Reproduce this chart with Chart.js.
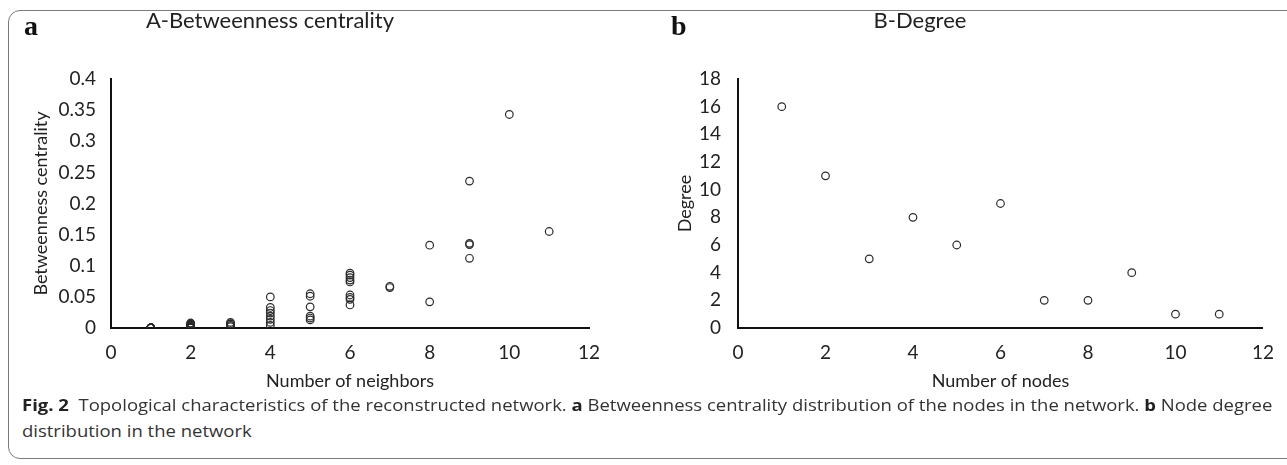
<!DOCTYPE html>
<html>
<head>
<meta charset="utf-8">
<script src="https://cdn.jsdelivr.net/npm/chart.js@4.4.1/dist/chart.umd.min.js"></script>
<style>
  html, body { margin: 0; padding: 0; background: #fff; }
  body { width: 1287px; height: 465px; position: relative; overflow: hidden; font-family: Lato, sans-serif; }
  .frame {
    position: absolute; left: 8px; top: 10px; width: 1300px; height: 447px;
    border: 1.5px solid #7a7a7a; border-radius: 12px;
  }
  .panel { position: absolute; top: 0; }
  .letter { position: absolute; font-family: "Liberation Serif", serif; font-weight: bold; font-size: 28px; color: #111; }
  .title { position: absolute; font-family: Lato, sans-serif; font-size: 22px; color: #222; transform: translateX(-50%); white-space: nowrap; }
  .caption { position: absolute; left: 22px; font-family: "Open Sans", sans-serif; font-size: 16px; color: #333; white-space: nowrap; transform-origin: left top; }
  .caption b { color: #222; }
</style>
</head>
<body>
<div class="frame"></div>

<canvas id="chart-a" class="panel" style="left:0px"></canvas>
<canvas id="chart-b" class="panel" style="left:640px"></canvas>

<div class="letter" style="left:24px; top:10px">a</div>
<div class="title" style="left:270px; top:6px">A-Betweenness centrality</div>
<div class="letter" style="left:671px; top:10px">b</div>
<div class="title" style="left:920px; top:6px">B-Degree</div>

<div class="caption" id="cap1" style="top:394px"><b>Fig. 2</b>&nbsp; Topological characteristics of the reconstructed network. <b>a</b> Betweenness centrality distribution of the nodes in the network. <b>b</b> Node degree</div>
<div class="caption" id="cap2" style="top:420px">distribution in the network</div>

<script>
/* =====================================================
   DATA
===================================================== */
// panel a: one point per node (number of neighbors, betweenness)
const neighborsA = [
  1, 1, 1, 1, 1, 1, 1, 1, 1, 1, 1, 1, 1, 1, 1, 1,
  2, 2, 2, 2, 2, 2, 2, 2, 2, 2, 2,
  3, 3, 3, 3, 3,
  4, 4, 4, 4, 4, 4, 4, 4,
  5, 5, 5, 5, 5, 5,
  6, 6, 6, 6, 6, 6, 6, 6, 6,
  7, 7,
  8, 8,
  9, 9, 9, 9,
  10,
  11
];
const betweennessA = [
  0, 0, 0, 0, 0, 0, 0, 0, 0, 0, 0, 0, 0, 0, 0, 0,
  0, 0, 0, 0.001, 0.002, 0.003, 0.004, 0.005, 0.006, 0.007, 0.008,
  0.002, 0.004, 0.006, 0.007, 0.009,
  0.05, 0.033, 0.028, 0.024, 0.019, 0.014, 0.009, 0.004,
  0.055, 0.051, 0.034, 0.019, 0.016, 0.013,
  0.088, 0.085, 0.081, 0.077, 0.074, 0.053, 0.049, 0.046, 0.037,
  0.067, 0.065,
  0.133, 0.042,
  0.236, 0.136, 0.134, 0.112,
  0.343,
  0.155
];

// panel b: degree distribution
const nodesB = [1, 2, 3, 4, 5, 6, 7, 8, 9, 10, 11];
const degreeB = [16, 11, 5, 8, 6, 9, 2, 2, 4, 1, 1];

const xTicks = [0, 2, 4, 6, 8, 10, 12];
const yTicksA = [0, 0.05, 0.1, 0.15, 0.2, 0.25, 0.3, 0.35, 0.4];
const yTicksB = [0, 2, 4, 6, 8, 10, 12, 14, 16, 18];


/* =====================================================
   SHARED OPTIONS
===================================================== */
const INK = "#222";
const TICK_FONT = { family: "Lato", size: 19 };
const AXIS_FONT = { family: "Lato", size: 18 };

function makeScatter(canvasId, size, xs, ys, cfg) {

  const canvas = document.getElementById(canvasId);
  canvas.width = size.w;
  canvas.height = size.h;
  canvas.style.width = size.w + "px";
  canvas.style.height = size.h + "px";

  return new Chart(canvas, {
    type: "scatter",
    data: {
      datasets: [{
        data: xs.map((x, i) => ({ x: x, y: ys[i] })),
        pointStyle: "circle",
        pointRadius: 3.8,
        borderColor: "#2a2a2a",
        borderWidth: 1.2,
        backgroundColor: "rgba(255,255,255,0)"
      }]
    },
    options: {
      responsive: false,
      animation: false,
      layout: { padding: { top: 79, right: cfg.padRight, left: 0, bottom: 0 } },
      plugins: { legend: { display: false }, tooltip: { enabled: false } },
      scales: {
        x: {
          type: "linear",
          min: 0, max: 12,
          afterFit: s => { s.height = size.h - 328; },
          afterBuildTicks: s => { s.ticks = xTicks.map(v => ({ value: v })); },
          grid: { display: false, drawTicks: false },
          border: { display: true, color: "#111", width: 2 },
          ticks: { color: INK, font: TICK_FONT, padding: 13 },
          title: {
            display: true, text: cfg.xTitle, color: INK, font: AXIS_FONT,
            padding: { top: 0, bottom: 8 }
          }
        },
        y: {
          type: "linear",
          min: 0, max: cfg.yMax,
          afterFit: s => { s.width = cfg.yWidth; },
          afterBuildTicks: s => { s.ticks = cfg.yTicks.map(v => ({ value: v })); },
          grid: { display: false, drawTicks: false },
          border: { display: true, color: "#111", width: 2 },
          ticks: {
            color: INK, font: TICK_FONT, padding: cfg.yPad,
            callback: v => String(+Number(v).toFixed(2))
          },
          title: {
            display: true, text: cfg.yTitle, color: INK, font: AXIS_FONT,
            padding: { top: cfg.yTitlePad, bottom: 0 }
          }
        }
      }
    }
  });
}


/* =====================================================
   CHARTS
===================================================== */
makeScatter("chart-a", { w: 640, h: 400 }, neighborsA, betweennessA, {
  padRight: 640 - 589,
  yWidth: 111,
  yMax: 0.4,
  yTicks: yTicksA,
  yPad: 15,
  yTitlePad: 30,
  xTitle: "Number of neighbors",
  yTitle: "Betweenness centrality"
});

makeScatter("chart-b", { w: 647, h: 400 }, nodesB, degreeB, {
  padRight: 647 - 624,
  yWidth: 98,
  yMax: 18,
  yTicks: yTicksB,
  yPad: 17,
  yTitlePad: 34,
  xTitle: "Number of nodes",
  yTitle: "Degree"
});


/* =====================================================
   CAPTION WIDTH
===================================================== */
const cap1 = document.getElementById("cap1");
const cap2 = document.getElementById("cap2");
const squeeze = 1250 / cap1.offsetWidth;
cap1.style.transform = `scaleX(${squeeze})`;
cap2.style.transform = `scaleX(${squeeze})`;
</script>
</body>
</html>
